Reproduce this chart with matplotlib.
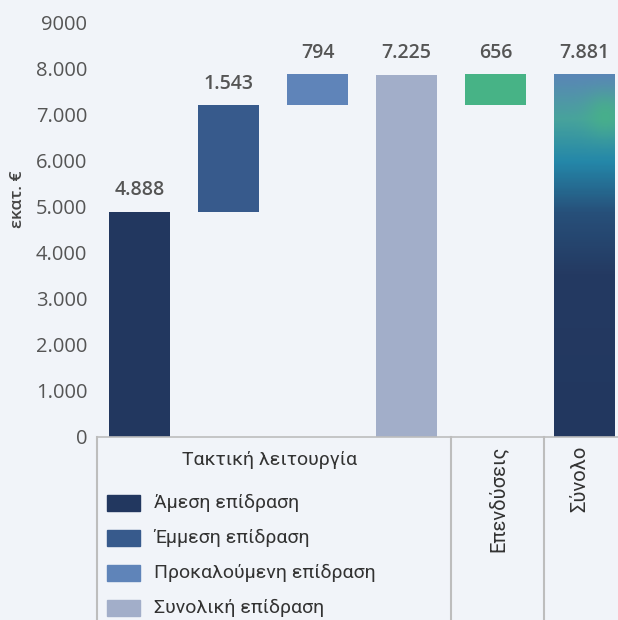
import matplotlib
matplotlib.use('Agg')
import matplotlib.pyplot as plt
import numpy as np
from matplotlib.colors import LinearSegmentedColormap, to_rgb
from matplotlib.patches import Rectangle
import matplotlib.transforms as mtransforms

categories = ['Άμεση επίδραση', 'Έμμεση επίδραση', 'Προκαλούμενη επίδραση',
              'Συνολική επίδραση', 'Επενδύσεις', 'Σύνολο']
values = [4888, 1543, 794, 7225, 656, 7881]
value_labels = ['4.888', '1.543', '794', '7.225', '656', '7.881']
# bar extents as they are drawn in the picture
bar_base = [0, 4888, 7200, 0, 7200, 0]
bar_top = [4888, 7200, 7870, 7860, 7870, 7860]
colors = ['#22375f', '#375a8c', '#5f84b9', '#a2aec9', '#47b386', None]
yticks = [0, 1000, 2000, 3000, 4000, 5000, 6000, 7000, 8000, 9000]
ytick_labels = ['0', '1.000', '2.000', '3.000', '4.000', '5.000',
                '6.000', '7.000', '8.000', '9000']
group_title = 'Τακτική λειτουργία'
bottom_labels = ['Επενδύσεις', 'Σύνολο']

bg = '#f1f4f9'
txt = '#555555'
fam = ['Open Sans', 'DejaVu Sans']
fam2 = ['Roboto', 'DejaVu Sans']

fig = plt.figure(figsize=(6.18, 6.2), dpi=100, facecolor=bg)
ax = fig.add_axes([97/618, 1 - 437/620, 521/618, 415/620], facecolor=bg)

x = np.arange(len(values))
w = 0.685
for i in range(5):
    ax.bar(x[i], bar_top[i] - bar_base[i], bottom=bar_base[i], width=w,
           color=colors[i], zorder=2)

# gradient bar for the total
grad = LinearSegmentedColormap.from_list('g', [
    (0.0, '#22375f'), (0.45, '#243a62'), (0.62, '#27507a'),
    (0.76, '#2487a9'), (0.88, '#48a39c'), (1.0, '#5a86b6')])
H, W = 300, 60
vv = np.linspace(0, 1, H)[:, None] * np.ones((1, W))
uu = np.ones((H, 1)) * np.linspace(0, 1, W)[None, :]
img = grad(vv)[..., :3]
blob = np.exp(-((uu - 0.85) ** 2) / (2 * 0.22 ** 2) - ((vv - 0.89) ** 2) / (2 * 0.04 ** 2))
green = np.array(to_rgb('#47b386'))
img = img * (1 - blob[..., None] * 0.75) + green * blob[..., None] * 0.75
ax.imshow(img, origin='lower', aspect='auto', zorder=2,
          extent=(x[5] - w/2, x[5] + w/2, bar_base[5], bar_top[5]))

for i in range(len(values)):
    ax.annotate(value_labels[i], (x[i], bar_top[i]), xytext=(0, 8),
                textcoords='offset points', ha='center', va='bottom',
                fontsize=14, color=txt, fontweight='semibold', family=fam)

ax.set_xlim(-0.4775, 5.376)
ax.set_ylim(0, 9000)
ax.set_yticks(yticks)
ax.set_yticklabels(ytick_labels, fontsize=14.5, color=txt, fontweight='medium', family=fam)
ax.tick_params(axis='y', length=0, pad=7)
ax.set_xticks([])
for s in ax.spines.values():
    s.set_visible(False)

fig.text(18/618, 1 - 199/620, 'εκατ. €', rotation=90, ha='center', va='center',
         fontsize=12.5, color='#444444', fontweight='semibold', family=fam)

# table under the axis
lc = '#bdbdbd'
trans = mtransforms.blended_transform_factory(ax.transData, ax.transAxes)
ax.plot([-0.4775, 5.376], [0, 0], transform=trans, color=lc, lw=1.2, clip_on=False, zorder=3)
for xv in [-0.4775, 3.5, 4.55]:
    ax.plot([xv, xv], [0, -0.45], transform=trans, color=lc, lw=1.5, clip_on=False)

fig.text(270/618, 1 - 460/620, group_title, ha='center', va='center',
         fontsize=14, color='#333333', family=fam2)
for j, yy in enumerate([503, 538, 573, 608]):
    fig.add_artist(Rectangle((107/618, 1 - (yy + 8)/620), 33/618, 16/620,
                             transform=fig.transFigure, color=colors[j]))
    fig.text(154/618, 1 - yy/620, categories[j], ha='left', va='center',
             fontsize=14, color='#333333', family=fam2)

for xv, lab in zip([498, 580], bottom_labels):
    fig.text(xv/618, 1 - 446/620, lab, rotation=90, ha='center', va='top',
             fontsize=14.5, color='#333333', family=fam2)

fig.savefig('out.png', dpi=100, facecolor=bg)
